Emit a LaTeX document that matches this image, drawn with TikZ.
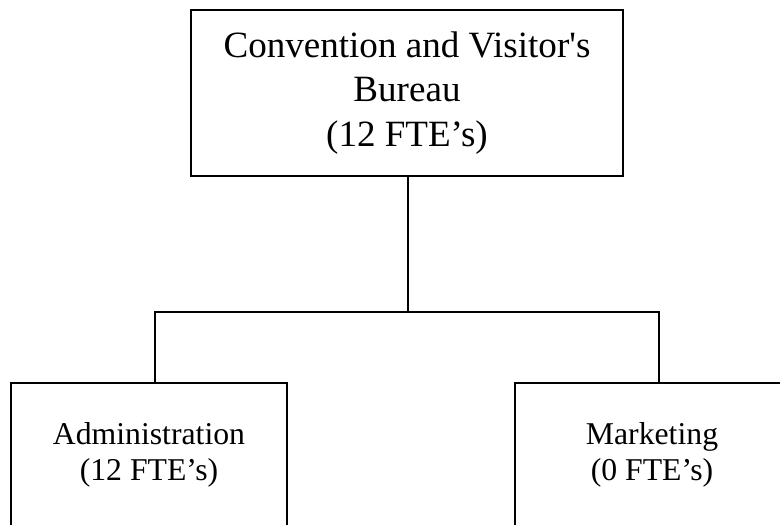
\documentclass[tikz,border=0pt]{standalone}
\usepackage{fontspec}
\setmainfont{Liberation Serif}
\usetikzlibrary{positioning}

\begin{document}
\begin{tikzpicture}[
			x=0.75pt, y=-0.75pt,
			orgbox/.style={draw=black, line width=2.2pt, align=center,
				inner sep=0pt},
			topfont/.style={font=\fontsize{27.8}{33.3}\selectfont},
			subfont/.style={font=\fontsize{23.8}{27.2}\selectfont},
			orgline/.style={line width=2.2pt, line join=miter}
		]
			\useasboundingbox (0,0) rectangle (780,524);
			\clip (0,0) rectangle (780,524);
			\node[orgbox, topfont, minimum width=324pt, minimum height=124.5pt] (cvb) at (407,93)
				{\raisebox{-3pt}{Convention and Visitor\textquotesingle s}\\\raisebox{-3pt}{Bureau}\\\raisebox{-3pt}{(12 FTE’s)}};
			\node[orgbox, subfont, minimum width=207pt, minimum height=108pt] (adm) at (149,455)
				{Administration\\(12 FTE’s)};
			\node[orgbox, subfont, minimum width=205.5pt, minimum height=108pt] (mkt) at (652,455)
				{Marketing\\(0 FTE’s)};
			\coordinate (admin) at (155,383);
			\coordinate (mktin) at (659,383);
			\coordinate (bar) at (408,312);
			\draw[orgline] (cvb.south -| bar) -- (bar);
			\draw[orgline] (admin) |- (bar) -| (mktin);
		\end{tikzpicture}
\end{document}
